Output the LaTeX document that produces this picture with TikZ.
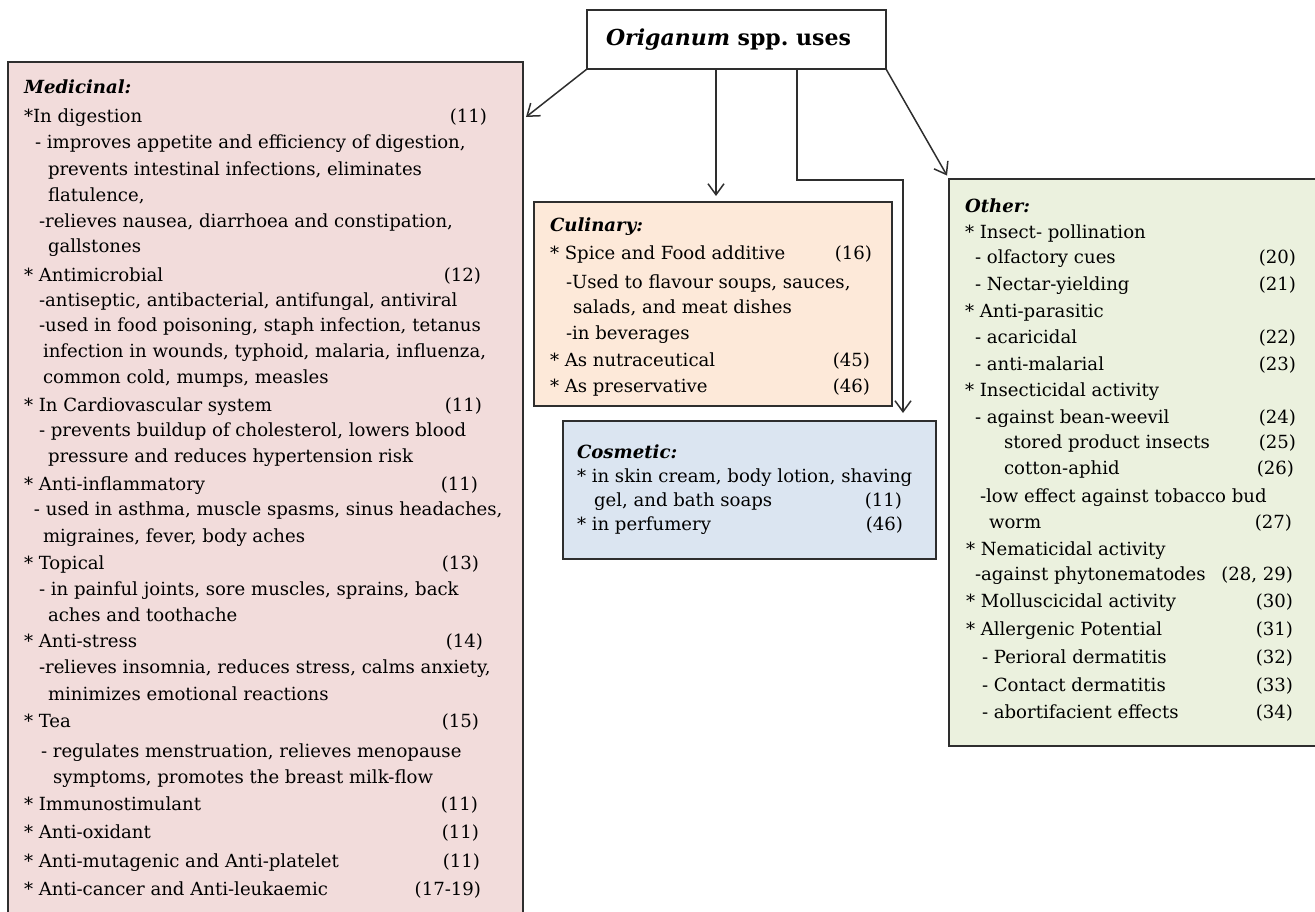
\documentclass[tikz,border=0pt]{standalone}
\usepackage{fontspec}
\setmainfont{DejaVu Serif}
\usetikzlibrary{arrows.meta,calc}
\definecolor{medfill}{HTML}{F2DCDB}
\definecolor{culfill}{HTML}{FDE9D9}
\definecolor{cosfill}{HTML}{DBE5F1}
\definecolor{othfill}{HTML}{EBF1DE}
\definecolor{edgec}{HTML}{2E2E2E}
\newcounter{ln}
\newcommand\tl[3]{\stepcounter{ln}\node[txt,anchor=base west] (l\arabic{ln}) at (#1,#2) {#3};}
\newcommand\tr[3]{\stepcounter{ln}\node[txt,anchor=base east] (r\arabic{ln}) at (#1,#2) {#3};}
\newcommand\hd[1]{\textbf{\textit{#1}}}
\frenchspacing
\tikzset{
  txt/.style={inner sep=0pt,outer sep=0pt,font=\fontsize{18.1}{21}\selectfont},
  box/.style={draw=edgec,line width=1.5pt,inner sep=0pt,outer sep=0pt,anchor=north west},
  arr/.style={draw=edgec,line width=1.5pt,-{Straight Barb[length=11pt,width=16pt,line width=1.5pt]}}
}
\begin{document}
\begin{tikzpicture}[x=1pt,y=-1pt]
\useasboundingbox (0,0) rectangle (1315,911);
\clip (0,0) rectangle (1315,911);
% boxes
\node[box,fill=white,minimum width=299pt,minimum height=59pt] (title) at (587,10) {};
\node[txt,font=\fontsize{22}{26}\selectfont\bfseries] (titletext) at ($(title.center)+(-8,0)$) {\textit{Origanum} spp.\ uses};
\node[box,fill=medfill,minimum width=515pt,minimum height=880pt] (med) at (8,62) {};
\node[box,fill=culfill,minimum width=358pt,minimum height=204pt] (cul) at (534,202) {};
\node[box,fill=cosfill,minimum width=373pt,minimum height=138pt] (cos) at (563,421) {};
\node[box,fill=othfill,minimum width=400pt,minimum height=567pt] (oth) at (949,179) {};
% connectors
\coordinate (medtip) at ($(med.north east)+(3,55)$);
\draw[arr] (title.south west) -- (medtip);
\coordinate (c1) at ($(title.south west)+(129,0)$);
\draw[arr] (c1) -- ($(c1 |- cul.north)+(0,-6)$);
\coordinate (c2) at ($(title.south west)+(210,0)$);
\coordinate (c3) at ($(cul.north east)+(11,0)$);
\draw[arr] (c2) |- ($(c3)+(0,-22)$) -- ($(c3 |- cos.north)+(0,-8)$);
\draw[arr,shorten >=4pt] (title.south east) -- (oth.north west);
% Medicinal
\tl{24}{93}{\hd{Medicinal:}}
\tl{24}{122}{*In digestion}\tr{487}{122}{(11)}
\tl{35}{148}{- improves appetite and efficiency of digestion,}
\tl{48}{175}{prevents intestinal infections, eliminates}
\tl{48}{201}{flatulence,}
\tl{39}{227}{-relieves nausea, diarrhoea and constipation,}
\tl{48}{252}{gallstones}
\tl{24}{281}{* Antimicrobial}\tr{481}{281}{(12)}
\tl{39}{306}{-antiseptic, antibacterial, antifungal, antiviral}
\tl{39}{331}{-used in food poisoning, staph infection, tetanus}
\tl{43}{357}{infection in wounds, typhoid, malaria, influenza,}
\tl{43}{383}{common cold, mumps, measles}
\tl{24}{411}{* In Cardiovascular system}\tr{482}{411}{(11)}
\tl{39}{436}{- prevents buildup of cholesterol, lowers blood}
\tl{48}{462}{pressure and reduces hypertension risk}
\tl{24}{490}{* Anti-inflammatory}\tr{478}{490}{(11)}
\tl{34}{515}{- used in asthma, muscle spasms, sinus headaches,}
\tl{43}{542}{migraines, fever, body aches}
\tl{24}{569}{* Topical}\tr{479}{569}{(13)}
\tl{39}{595}{- in painful joints, sore muscles, sprains, back}
\tl{48}{621}{aches and toothache}
\tl{24}{647}{* Anti-stress}\tr{483}{647}{(14)}
\tl{39}{673}{-relieves insomnia, reduces stress, calms anxiety,}
\tl{48}{700}{minimizes emotional reactions}
\tl{24}{727}{* Tea}\tr{479}{727}{(15)}
\tl{41}{757}{- regulates menstruation, relieves menopause}
\tl{53}{783}{symptoms, promotes the breast milk-flow}
\tl{24}{810}{* Immunostimulant}\tr{478}{810}{(11)}
\tl{24}{838}{* Anti-oxidant}\tr{479}{838}{(11)}
\tl{24}{867}{* Anti-mutagenic and Anti-platelet}\tr{480}{867}{(11)}
\tl{24}{895}{* Anti-cancer and Anti-leukaemic}\tr{481}{895}{(17-19)}
% Culinary
\tl{550}{231}{\hd{Culinary:}}
\tl{550}{259}{* Spice and Food additive}\tr{872}{259}{(16)}
\tl{566}{288}{-Used to flavour soups, sauces,}
\tl{573}{313}{salads, and meat dishes}
\tl{566}{339}{-in beverages}
\tl{550}{366}{* As nutraceutical}\tr{870}{366}{(45)}
\tl{550}{392}{* As preservative}\tr{870}{392}{(46)}
% Cosmetic
\tl{577}{458}{\hd{Cosmetic:}}
\tl{577}{482}{* in skin cream, body lotion, shaving}
\tl{594}{506}{gel, and bath soaps}\tr{902}{506}{(11)}
\tl{577}{530}{* in perfumery}\tr{903}{530}{(46)}
% Other
\tl{965}{212}{\hd{Other:}}
\tl{965}{238}{* Insect- pollination}
\tl{975}{263}{- olfactory cues}\tr{1296}{263}{(20)}
\tl{975}{290}{- Nectar-yielding}\tr{1296}{290}{(21)}
\tl{965}{317}{* Anti-parasitic}
\tl{975}{343}{- acaricidal}\tr{1296}{343}{(22)}
\tl{975}{370}{- anti-malarial}\tr{1296}{370}{(23)}
\tl{965}{396}{* Insecticidal activity}
\tl{975}{423}{- against bean-weevil}\tr{1296}{423}{(24)}
\tl{1004}{448}{stored product insects}\tr{1296}{448}{(25)}
\tl{1004}{474}{cotton-aphid}\tr{1294}{474}{(26)}
\tl{980}{502}{-low effect against tobacco bud}
\tl{989}{528}{worm}\tr{1292}{528}{(27)}
\tl{966}{555}{* Nematicidal activity}
\tl{975}{580}{-against phytonematodes}\tr{1293}{580}{(28, 29)}
\tl{966}{607}{* Molluscicidal activity}\tr{1293}{607}{(30)}
\tl{966}{635}{* Allergenic Potential}\tr{1293}{635}{(31)}
\tl{982}{663}{- Perioral dermatitis}\tr{1293}{663}{(32)}
\tl{982}{691}{- Contact dermatitis}\tr{1293}{691}{(33)}
\tl{982}{718}{- abortifacient effects}\tr{1293}{718}{(34)}
\end{tikzpicture}
\end{document}
